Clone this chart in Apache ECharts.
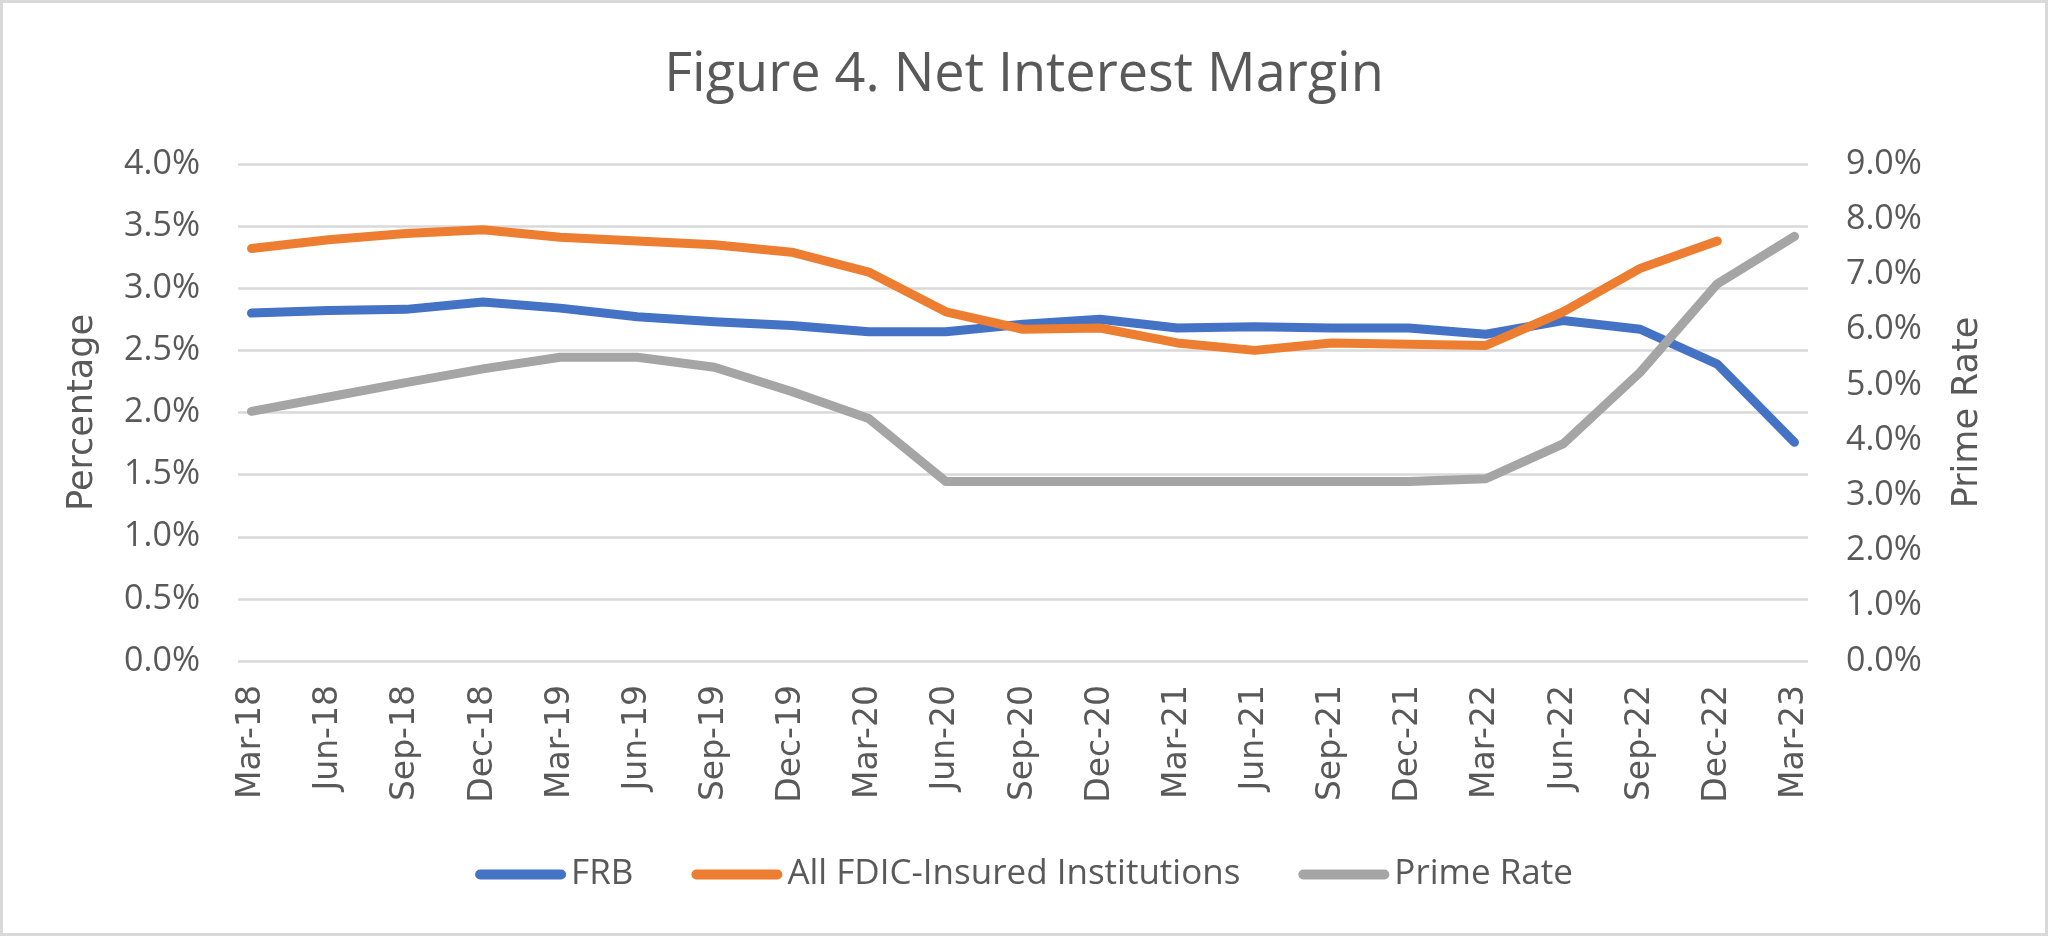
<!DOCTYPE html>
<html>
<head>
<meta charset="utf-8">
<script src="https://cdn.jsdelivr.net/npm/echarts@6/dist/echarts.min.js"></script>
<style>
  html, body { margin: 0; padding: 0; background: #ffffff; }
  #chart { width: 2048px; height: 936px; }
</style>
</head>
<body>
<div id="chart"></div>
<script>
const categories = ['Mar-18','Jun-18','Sep-18','Dec-18','Mar-19','Jun-19','Sep-19','Dec-19','Mar-20','Jun-20','Sep-20','Dec-20','Mar-21','Jun-21','Sep-21','Dec-21','Mar-22','Jun-22','Sep-22','Dec-22','Mar-23'];
const frb   = [2.80,2.82,2.83,2.89,2.84,2.77,2.73,2.70,2.65,2.65,2.71,2.75,2.68,2.69,2.68,2.68,2.63,2.74,2.67,2.39,1.76];
const fdic  = [3.32,3.39,3.44,3.47,3.41,3.38,3.35,3.29,3.13,2.81,2.67,2.68,2.56,2.50,2.56,2.55,2.54,2.81,3.16,3.38,null];
const prime = [4.52,4.78,5.04,5.29,5.50,5.50,5.32,4.88,4.39,3.25,3.25,3.25,3.25,3.25,3.25,3.25,3.30,3.93,5.23,6.83,7.69];
const seriesNames = ['FRB','All FDIC-Insured Institutions','Prime Rate'];
const colors = ['#4472C4','#ED7D31','#A5A5A5'];

const textColor = '#595959';
const baseFont = "'Open Sans', 'Noto Sans', sans-serif";
const wideFont = "'DejaVu Sans', sans-serif";

const toPairs = arr => arr.map((v, i) => [i, v]).filter(p => p[1] !== null);
const pill = 'path://M5,0 L86,0 A5,5 0 0 1 86,10 L5,10 A5,5 0 0 1 5,0 Z';

const chart = echarts.init(document.getElementById('chart'), null, { renderer: 'canvas' });
chart.setOption({
  backgroundColor: '#ffffff',
  animation: false,
  color: colors,
  title: {
    text: 'Figure 4. Net Interest Margin',
    left: 'center',
    top: 44,
    textStyle: { color: textColor, fontFamily: baseFont, fontSize: 54, fontWeight: 'normal' }
  },
  legend: {
    data: seriesNames.map(n => ({ name: n, icon: pill })),
    left: 'center',
    top: 852,
    itemWidth: 91,
    itemHeight: 11,
    itemGap: 58,
    textStyle: { color: textColor, fontFamily: baseFont, fontSize: 35 }
  },
  grid: { left: 238, right: 240, top: 164, bottom: 275 },
  xAxis: {
    type: 'value',
    min: -0.175,
    max: categories.length - 1 + 0.175,
    splitLine: { show: false },
    axisLine: { show: false },
    axisTick: { show: false },
    axisLabel: {
      customValues: categories.map((c, i) => i),
      formatter: v => categories[Math.round(v)] || '',
      rotate: 90,
      margin: 24,
      color: textColor,
      fontFamily: wideFont,
      fontSize: 33
    }
  },
  yAxis: [
    {
      type: 'value',
      min: 0, max: 4, interval: 0.5,
      name: 'Percentage',
      nameLocation: 'middle',
      nameRotate: 90,
      nameGap: 138,
      nameTextStyle: { color: textColor, fontFamily: wideFont, fontSize: 35 },
      axisLine: { show: false },
      axisTick: { show: false },
      axisLabel: { formatter: v => v.toFixed(1) + '%', margin: 38, color: textColor, fontFamily: baseFont, fontSize: 34 },
      splitLine: { show: true, lineStyle: { color: '#D9D9D9', width: 2.5 } }
    },
    {
      type: 'value',
      min: 0, max: 9, interval: 1,
      name: 'Prime Rate',
      nameLocation: 'middle',
      nameRotate: 90,
      nameGap: 142,
      nameTextStyle: { color: textColor, fontFamily: wideFont, fontSize: 35 },
      axisLine: { show: false },
      axisTick: { show: false },
      axisLabel: { formatter: v => v.toFixed(1) + '%', margin: 38, color: textColor, fontFamily: baseFont, fontSize: 34 },
      splitLine: { show: false }
    }
  ],
  series: [
    { name: seriesNames[0], type: 'line', yAxisIndex: 0, data: toPairs(frb), symbol: 'none',
      lineStyle: { width: 9, color: colors[0], cap: 'round', join: 'round' } },
    { name: seriesNames[1], type: 'line', yAxisIndex: 0, data: toPairs(fdic), symbol: 'none',
      lineStyle: { width: 9, color: colors[1], cap: 'round', join: 'round' } },
    { name: seriesNames[2], type: 'line', yAxisIndex: 1, data: toPairs(prime), symbol: 'none',
      lineStyle: { width: 9, color: colors[2], cap: 'round', join: 'round' } }
  ],
  graphic: [{
    type: 'rect',
    shape: { x: 1.5, y: 1.5, width: 2045, height: 933 },
    style: { fill: null, stroke: '#D9D9D9', lineWidth: 3 },
    silent: true
  }]
});
</script>
</body>
</html>
